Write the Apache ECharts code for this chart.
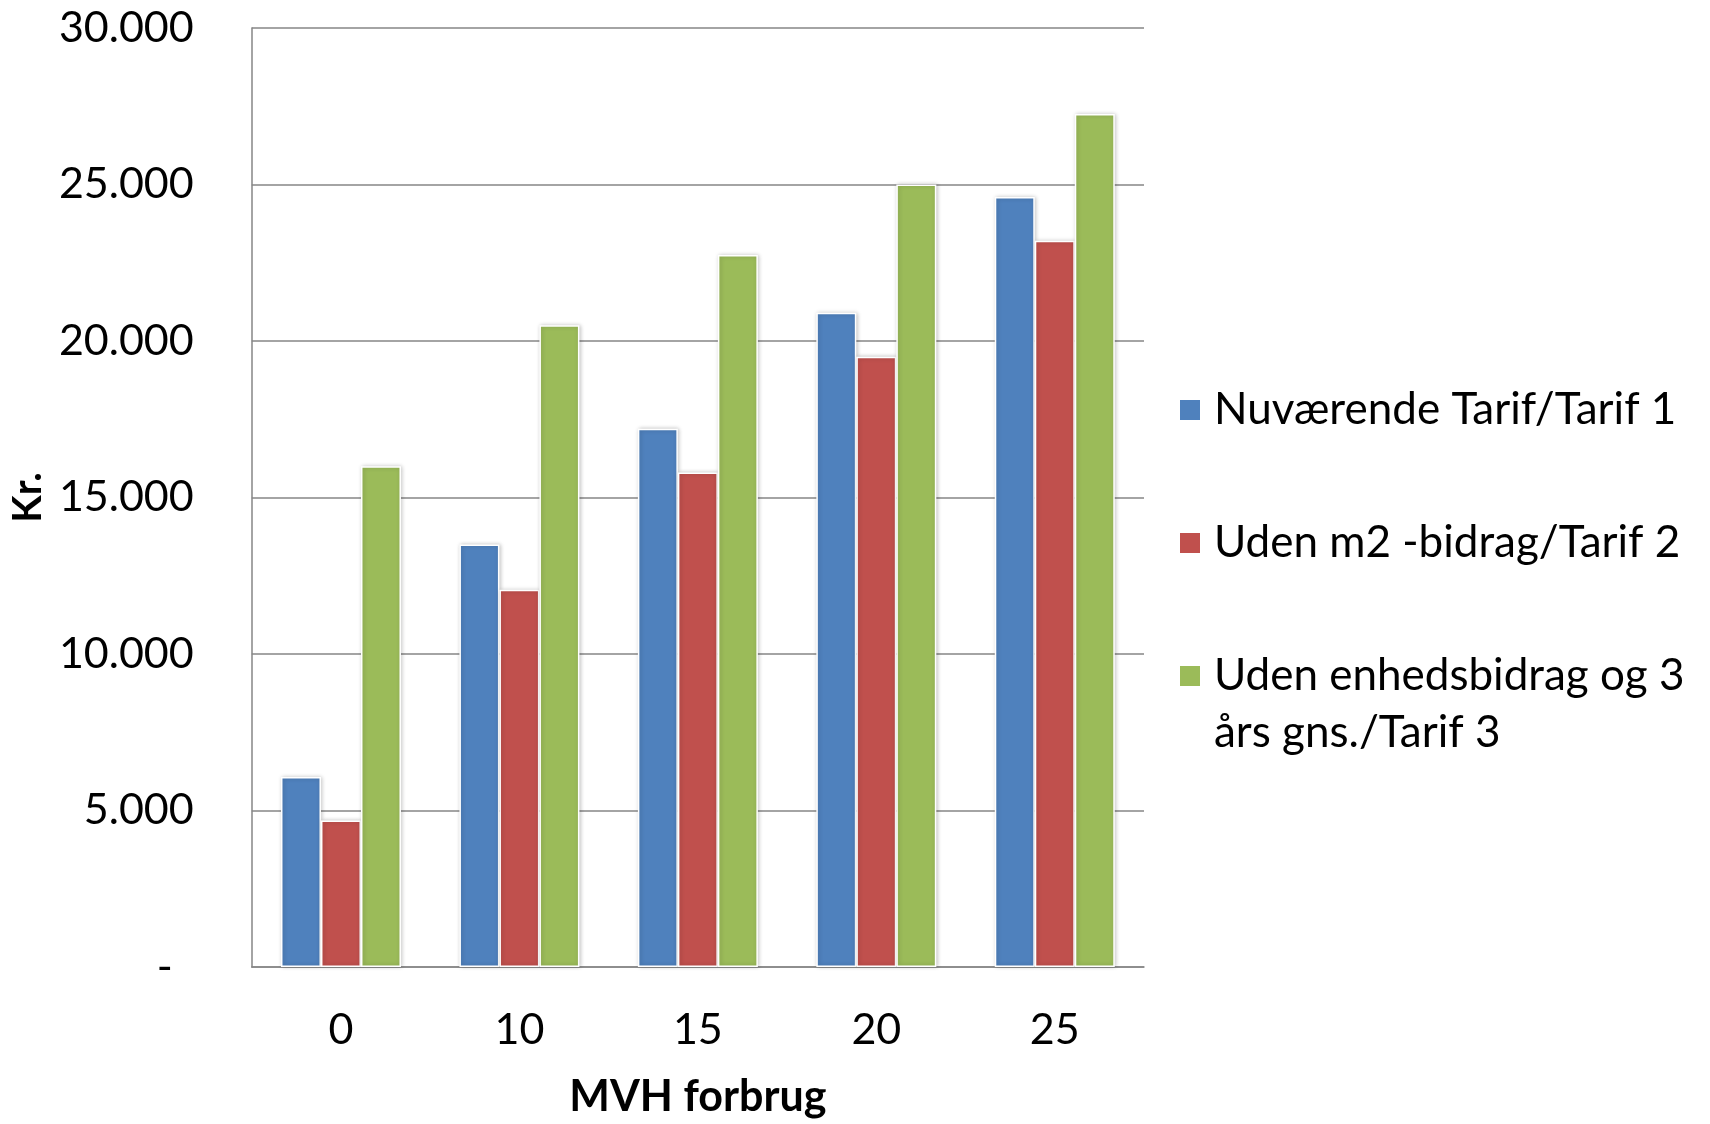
<!DOCTYPE html>
<html>
<head>
<meta charset="utf-8">
<script src="https://cdn.jsdelivr.net/npm/echarts@6/dist/echarts.min.js"></script>
<style>
html,body{margin:0;padding:0;background:#fff;}
#c{width:1710px;height:1124px;}
</style>
</head>
<body>
<div id="c"></div>
<script>
const categories = ['0', '10', '15', '20', '25'];
const seriesNames = ['Nuværende Tarif/Tarif 1', 'Uden m2 -bidrag/Tarif 2', 'Uden enhedsbidrag og 3 års gns./Tarif 3'];
const legendLabels = ['Nuværende Tarif/Tarif 1', 'Uden m2 -bidrag/Tarif 2', '\nUden enhedsbidrag og 3\vårs gns./Tarif 3'];
const tarif1 = [6070, 13500, 17200, 20900, 24600];
const tarif2 = [4680, 12050, 15800, 19500, 23200];
const tarif3 = [16000, 20500, 22750, 25000, 27250];
const colors = ['#4F81BD', '#C0504D', '#9BBB59'];

const FONT = 'Lato';
const chart = echarts.init(document.getElementById('c'), null, {renderer: 'canvas'});

function fmt(v) {
  if (v === 0) return '{d|-}';
  return String(v / 1000) + '.000';
}

const barStyle = (c) => ({
  color: c,
  borderColor: '#ffffff',
  borderWidth: 1.5,
  shadowColor: 'rgba(0,0,0,0.22)',
  shadowBlur: 4,
  shadowOffsetX: 1,
  shadowOffsetY: 0
});

const legendBase = {
  orient: 'vertical',
  left: 1178,
  padding: 0,
  itemWidth: 22,
  itemHeight: 22,
  icon: 'rect',
  selectedMode: false,
  textStyle: {fontFamily: FONT, fontSize: 44, color: '#000', lineHeight: 57, padding: [0, 0, 0, 8]}
};

chart.setOption({
  backgroundColor: '#ffffff',
  animation: false,
  color: colors,
  grid: {left: 235, right: 566, top: 28, bottom: 153, containLabel: false},
  legend: [
    Object.assign({}, legendBase, {top: 410 - 28.5, data: [seriesNames[0]]}),
    Object.assign({}, legendBase, {top: 543 - 28.5, data: [seriesNames[1]]}),
    Object.assign({}, legendBase, {
      top: 676 - 85.5,
      data: [seriesNames[2]],
      formatter: function () { return '\nUden enhedsbidrag og 3\nårs gns./Tarif 3'; }
    })
  ],
  xAxis: {
    type: 'category',
    data: categories,
    name: 'MVH forbrug',
    nameLocation: 'middle',
    nameGap: 109,
    nameTextStyle: {fontFamily: FONT, fontSize: 43, fontWeight: 'bold', color: '#000'},
    axisLine: {show: true, lineStyle: {color: '#868686', width: 1.5}},
    axisTick: {show: false},
    axisLabel: {fontFamily: FONT, fontSize: 43, color: '#000', margin: 42}
  },
  yAxis: {
    type: 'value',
    min: 0,
    max: 30000,
    interval: 5000,
    name: 'Kr.',
    nameLocation: 'middle',
    nameRotate: 90,
    nameGap: 186,
    nameTextStyle: {fontFamily: FONT, fontSize: 40, fontWeight: 'bold', color: '#000'},
    axisLine: {show: true, lineStyle: {color: '#868686', width: 1.5}},
    axisTick: {show: false},
    splitLine: {show: true, lineStyle: {color: '#868686', width: 1.5}},
    axisLabel: {
      fontFamily: FONT, fontSize: 43, color: '#000', margin: 58,
      formatter: fmt,
      rich: {d: {fontFamily: FONT, fontSize: 43, color: '#000', padding: [0, 21, 0, 0]}}
    }
  },
  series: [
    {name: seriesNames[0], type: 'bar', data: tarif1, barWidth: 40, barGap: '0%', itemStyle: barStyle(colors[0])},
    {name: seriesNames[1], type: 'bar', data: tarif2, barWidth: 40, barGap: '0%', itemStyle: barStyle(colors[1])},
    {name: seriesNames[2], type: 'bar', data: tarif3, barWidth: 40, barGap: '0%', itemStyle: barStyle(colors[2])}
  ]
});
</script>
</body>
</html>
